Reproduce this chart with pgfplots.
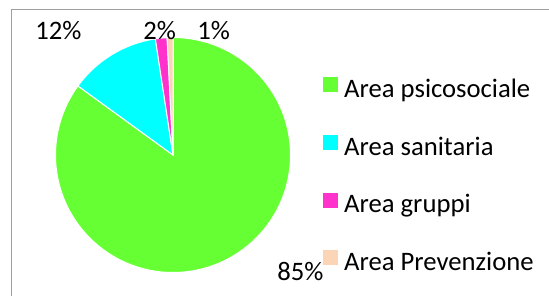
\documentclass[border=0pt]{standalone}
\usepackage{pgfplots}
\pgfplotsset{compat=1.18}
\usepackage{pgfplotstable}
\usepackage{fontspec}
\setmainfont{Carlito}
\definecolor{cgreen}{RGB}{102,255,51}
\definecolor{ccyan}{RGB}{0,255,255}
\definecolor{cpink}{RGB}{255,51,204}
\definecolor{cpeach}{RGB}{251,213,181}
\pgfplotstableread{
v
85.0
12.6
1.6
0.8
}\piedata
\begin{document}
\begin{tikzpicture}
\pgfplotstablegetelem{0}{v}\of\piedata \pgfmathsetmacro\va{\pgfplotsretval}
\pgfplotstablegetelem{1}{v}\of\piedata \pgfmathsetmacro\vb{\pgfplotsretval}
\pgfplotstablegetelem{2}{v}\of\piedata \pgfmathsetmacro\vc{\pgfplotsretval}
\pgfplotstablegetelem{3}{v}\of\piedata \pgfmathsetmacro\vd{\pgfplotsretval}
\pgfmathsetmacro\aA{90}
\pgfmathsetmacro\aB{\aA-3.6*\va}
\pgfmathsetmacro\aC{\aB-3.6*\vb}
\pgfmathsetmacro\aD{\aC-3.6*\vc}
\pgfmathsetmacro\aE{\aD-3.6*\vd}
\begin{axis}[
  x=0.75pt, y=0.75pt,
  xmin=0, xmax=549, ymin=0, ymax=296,
  hide axis,
  font=\fontsize{20}{24}\selectfont,
  legend image code/.code={\fill[#1, draw=none] (0pt,0pt) rectangle (11.25pt,11.25pt); \path (15.5pt,0pt);},
  legend cell align=left,
  legend style={at={(axis cs:323,219)}, anchor=north west, draw=none, fill=none,
    inner sep=0pt, row sep=25pt,
    nodes={inner sep=0pt, text height=11pt, text depth=3pt},
    font=\fontsize{20}{24}\selectfont},
]
\path (axis cs:0,0) rectangle (axis cs:549,296);
\fill[cgreen, draw=white, line width=0.75pt] (axis cs:173,141) -- ++(\aA:88.125pt) arc[start angle=\aA, end angle=\aB, radius=88.125pt] -- cycle;
\fill[ccyan, draw=white, line width=0.75pt] (axis cs:173,141) -- ++(\aB:88.125pt) arc[start angle=\aB, end angle=\aC, radius=88.125pt] -- cycle;
\fill[cpink, draw=white, line width=0.75pt] (axis cs:173,141) -- ++(\aC:88.125pt) arc[start angle=\aC, end angle=\aD, radius=88.125pt] -- cycle;
\fill[cpeach, draw=white, line width=0.75pt] (axis cs:173,141) -- ++(\aD:88.125pt) arc[start angle=\aD, end angle=\aE, radius=88.125pt] -- cycle;
\addlegendimage{fill=cgreen}\addlegendentry{Area psicosociale}
\addlegendimage{fill=ccyan}\addlegendentry{Area sanitaria}
\addlegendimage{fill=cpink}\addlegendentry{Area gruppi}
\addlegendimage{fill=cpeach}\addlegendentry{Area Prevenzione}
\node[anchor=base west, inner sep=0pt] at (axis cs:35,256.5) {12\%};
\node[anchor=base west, inner sep=0pt] at (axis cs:143,256.5) {2\%};
\node[anchor=base west, inner sep=0pt] at (axis cs:197,256.5) {1\%};
\node[anchor=base west, inner sep=0pt] at (axis cs:277,16) {85\%};
\draw[gray!75, line width=1.1pt] (axis cs:11.5,0) -- (axis cs:11.5,286.5) -- (axis cs:549,286.5);
\end{axis}
\end{tikzpicture}
\end{document}
